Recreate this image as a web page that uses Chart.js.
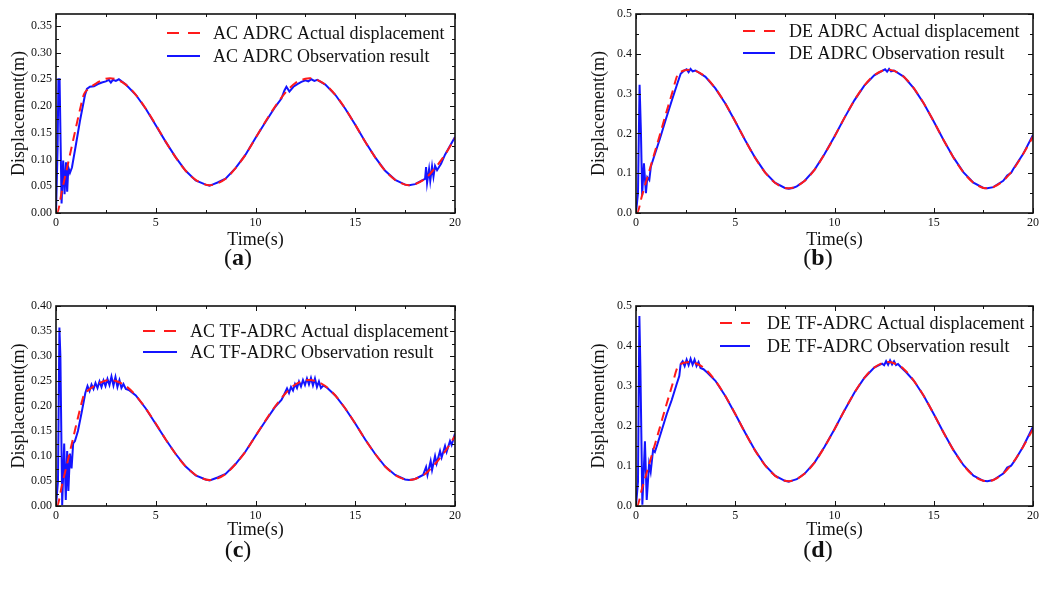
<!DOCTYPE html>
<html>
<head>
<meta charset="utf-8">
<script src="https://cdn.jsdelivr.net/npm/chart.js@4.4.1/dist/chart.umd.min.js"></script>
<style>
  body { margin: 0; background: #fff; width: 1042px; height: 589px; position: relative; overflow: hidden; font-family: "Liberation Serif", serif; }
  canvas { position: absolute; }
  .cap { position: absolute; font-size: 24px; color: #111; transform: translate(-50%, -50%); white-space: nowrap; }
</style>
</head>
<body>
<canvas id="chartA"></canvas>
<canvas id="chartB"></canvas>
<canvas id="chartC"></canvas>
<canvas id="chartD"></canvas>
<div class="cap" style="left:238px;top:257px">(<b>a</b>)</div>
<div class="cap" style="left:818px;top:257px">(<b>b</b>)</div>
<div class="cap" style="left:238px;top:549px">(<b>c</b>)</div>
<div class="cap" style="left:818px;top:549px">(<b>d</b>)</div>
<script>
// ---- data (time in s, displacement in m) ----
const xTicks = [0, 5, 10, 15, 20];

const timeActAC = [0, 0.05, 0.3, 0.6, 0.9, 1.2, 1.4, 1.6, 2.0, 2.5, 2.7, 3.0, 3.5, 4.0, 4.5, 5.0, 5.5, 6.0, 6.5, 7.0, 7.5, 7.7, 8.0, 8.5, 9.0, 9.5, 10.0, 10.5, 11.0, 11.5, 12.0, 12.5, 12.7, 13.0, 13.5, 14.0, 14.5, 15.0, 15.5, 16.0, 16.5, 17.0, 17.5, 17.7, 18.0, 18.5, 19.0, 19.5, 20.0];
const actAC = [0, 0, 0.042, 0.092, 0.143, 0.193, 0.222, 0.231, 0.242, 0.251, 0.252, 0.250, 0.240, 0.221, 0.195, 0.165, 0.133, 0.104, 0.079, 0.062, 0.053, 0.052, 0.054, 0.064, 0.084, 0.109, 0.140, 0.171, 0.200, 0.225, 0.243, 0.251, 0.252, 0.250, 0.240, 0.221, 0.195, 0.165, 0.133, 0.104, 0.079, 0.062, 0.053, 0.052, 0.054, 0.064, 0.084, 0.109, 0.140];

const timeActDE = [0, 0.05, 0.3, 0.6, 0.9, 1.2, 1.5, 1.8, 2.1, 2.3, 2.5, 2.7, 3.0, 3.5, 4.0, 4.5, 5.0, 5.5, 6.0, 6.5, 7.0, 7.5, 7.7, 8.0, 8.5, 9.0, 9.5, 10.0, 10.5, 11.0, 11.5, 12.0, 12.5, 12.7, 13.0, 13.5, 14.0, 14.5, 15.0, 15.5, 16.0, 16.5, 17.0, 17.5, 17.7, 18.0, 18.5, 19.0, 19.5, 20.0];
const actDE = [0, 0, 0.043, 0.094, 0.145, 0.196, 0.248, 0.298, 0.348, 0.356, 0.359, 0.360, 0.357, 0.342, 0.313, 0.275, 0.230, 0.183, 0.139, 0.102, 0.076, 0.063, 0.062, 0.065, 0.081, 0.109, 0.148, 0.192, 0.239, 0.283, 0.320, 0.346, 0.359, 0.360, 0.357, 0.342, 0.313, 0.275, 0.230, 0.183, 0.139, 0.102, 0.076, 0.063, 0.062, 0.065, 0.081, 0.109, 0.148, 0.192];

// (a) AC ADRC observation
const timeObsA = [0, 0.08, 0.12, 0.18, 0.28, 0.36, 0.43, 0.5, 0.56, 0.62,
  0.7, 0.8, 1.0, 1.2, 1.45, 1.55, 1.7, 1.9, 2.1, 2.3,
  2.5, 2.65, 2.75, 2.85, 3.0, 3.15, 3.5, 4.0, 4.5, 5.0,
  5.5, 6.0, 6.5, 7.0, 7.5, 7.7, 7.9, 8.1, 8.5, 9.0,
  9.5, 10.0, 10.5, 11.0, 11.3, 11.45, 11.55, 11.7, 11.9, 12.1,
  12.3, 12.5, 12.65, 12.8, 12.95, 13.1, 13.5, 14.0, 14.5, 15.0,
  15.5, 16.0, 16.5, 17.0, 17.5, 17.7, 18.0, 18.3, 18.5, 18.55,
  18.6, 18.7, 18.76, 18.85, 18.92, 19.0, 19.1, 19.3, 19.5, 20.0];
const obsA = [0, 0.12, 0.25, 0.25, 0.018, 0.098, 0.035, 0.095, 0.04, 0.085,
  0.075, 0.085, 0.128, 0.172, 0.22, 0.232, 0.236, 0.237, 0.241, 0.244,
  0.246, 0.249, 0.244, 0.249, 0.247, 0.25, 0.240, 0.221, 0.195, 0.164,
  0.133, 0.104, 0.079, 0.061, 0.053, 0.051, 0.054, 0.057, 0.064, 0.084,
  0.109, 0.140, 0.170, 0.199, 0.214, 0.229, 0.236, 0.227, 0.236, 0.241,
  0.245, 0.248, 0.246, 0.25, 0.247, 0.249, 0.240, 0.221, 0.195, 0.165,
  0.133, 0.104, 0.079, 0.062, 0.053, 0.052, 0.054, 0.06, 0.064, 0.086,
  0.056, 0.082, 0.06, 0.087, 0.068, 0.088, 0.08, 0.092, 0.109, 0.142];

// (b) DE ADRC observation
const timeObsB = [0, 0.1, 0.18, 0.25, 0.31, 0.4, 0.5, 0.57, 0.67, 0.75,
  0.9, 1.2, 1.5, 1.8, 2.1, 2.25, 2.4, 2.55, 2.65, 2.75,
  2.85, 3.0, 3.5, 4.0, 4.5, 5.0, 5.5, 6.0, 6.5, 7.0,
  7.5, 7.7, 7.9, 8.1, 8.5, 9.0, 9.5, 10.0, 10.5, 11.0,
  11.5, 12.0, 12.4, 12.55, 12.65, 12.75, 12.85, 13.0, 13.5, 14.0,
  14.5, 15.0, 15.5, 16.0, 16.5, 17.0, 17.5, 17.7, 18.0, 18.5,
  18.7, 18.9, 19.0, 19.5, 20.0];
const obsB = [0, 0.05, 0.322, 0.2, 0.045, 0.125, 0.05, 0.09, 0.083, 0.117,
  0.14, 0.186, 0.235, 0.282, 0.328, 0.350, 0.357, 0.361, 0.354, 0.362,
  0.356, 0.358, 0.342, 0.313, 0.275, 0.230, 0.183, 0.139, 0.102, 0.076,
  0.063, 0.061, 0.063, 0.067, 0.081, 0.109, 0.148, 0.192, 0.239, 0.283,
  0.320, 0.346, 0.357, 0.361, 0.355, 0.362, 0.356, 0.358, 0.342, 0.313,
  0.275, 0.230, 0.183, 0.139, 0.102, 0.076, 0.063, 0.062, 0.065, 0.081,
  0.094, 0.101, 0.11, 0.148, 0.196];

// (c) AC TF-ADRC observation
const timeObsC = [0, 0.1, 0.17, 0.22, 0.31, 0.41, 0.49, 0.56, 0.62, 0.7,
  0.78, 0.86, 0.95, 1.1, 1.3, 1.47, 1.58, 1.68, 1.78, 1.88,
  1.98, 2.08, 2.18, 2.28, 2.38, 2.48, 2.58, 2.68, 2.78, 2.88,
  2.98, 3.08, 3.18, 3.28, 3.38, 3.5, 3.65, 4.0, 4.5, 5.0,
  5.5, 6.0, 6.5, 7.0, 7.5, 7.7, 7.9, 8.1, 8.5, 9.0,
  9.5, 10.0, 10.5, 11.0, 11.3, 11.45, 11.58, 11.68, 11.78, 11.88,
  11.98, 12.08, 12.18, 12.28, 12.38, 12.48, 12.58, 12.68, 12.78, 12.88,
  12.98, 13.08, 13.18, 13.28, 13.4, 13.6, 14.0, 14.5, 15.0, 15.5,
  16.0, 16.5, 17.0, 17.5, 17.7, 18.0, 18.25, 18.4, 18.55, 18.62,
  18.78, 18.85, 19.0, 19.08, 19.25, 19.33, 19.5, 19.58, 19.75, 19.83,
  20.0];
const obsC = [0, 0.05, 0.357, 0.3, 0.002, 0.125, 0.012, 0.11, 0.03, 0.105,
  0.075, 0.125, 0.13, 0.15, 0.19, 0.226, 0.240, 0.230, 0.243, 0.234,
  0.246, 0.236, 0.249, 0.238, 0.251, 0.240, 0.254, 0.242, 0.259, 0.241,
  0.258, 0.238, 0.252, 0.236, 0.244, 0.234, 0.232, 0.221, 0.195, 0.164,
  0.133, 0.104, 0.079, 0.061, 0.053, 0.051, 0.054, 0.057, 0.064, 0.084,
  0.109, 0.140, 0.170, 0.199, 0.212, 0.224, 0.235, 0.226, 0.238, 0.231,
  0.244, 0.236, 0.249, 0.239, 0.252, 0.242, 0.255, 0.243, 0.256, 0.241,
  0.255, 0.238, 0.249, 0.236, 0.241, 0.236, 0.221, 0.195, 0.165, 0.133,
  0.104, 0.079, 0.062, 0.053, 0.052, 0.054, 0.059, 0.062, 0.078, 0.062,
  0.09, 0.072, 0.1, 0.085, 0.11, 0.097, 0.12, 0.108, 0.13, 0.122,
  0.145];

// (d) DE TF-ADRC observation
const timeObsD = [0, 0.1, 0.17, 0.22, 0.32, 0.45, 0.54, 0.66, 0.74, 0.86,
  0.95, 1.05, 1.3, 1.55, 1.8, 2.05, 2.18, 2.25, 2.35, 2.45,
  2.55, 2.65, 2.75, 2.85, 2.95, 3.05, 3.15, 3.25, 3.4, 3.6,
  4.0, 4.5, 5.0, 5.5, 6.0, 6.5, 7.0, 7.5, 7.7, 7.9,
  8.1, 8.5, 9.0, 9.5, 10.0, 10.5, 11.0, 11.5, 12.0, 12.4,
  12.5, 12.6, 12.7, 12.8, 12.9, 13.0, 13.1, 13.2, 13.35, 13.6,
  14.0, 14.5, 15.0, 15.5, 16.0, 16.5, 17.0, 17.5, 17.7, 18.0,
  18.5, 18.7, 18.9, 19.1, 19.5, 19.8, 20.0];
const obsD = [0, 0.06, 0.475, 0.35, 0.003, 0.162, 0.015, 0.105, 0.085, 0.14,
  0.135, 0.15, 0.19, 0.23, 0.265, 0.305, 0.325, 0.355, 0.362, 0.35,
  0.366, 0.352, 0.368, 0.353, 0.366, 0.35, 0.36, 0.345, 0.342, 0.333,
  0.313, 0.275, 0.230, 0.183, 0.139, 0.102, 0.076, 0.063, 0.061, 0.064,
  0.067, 0.081, 0.109, 0.148, 0.192, 0.239, 0.283, 0.320, 0.346, 0.356,
  0.352, 0.362, 0.353, 0.364, 0.354, 0.362, 0.352, 0.355, 0.347, 0.335,
  0.313, 0.275, 0.230, 0.183, 0.139, 0.102, 0.076, 0.063, 0.062, 0.065,
  0.081, 0.096, 0.101, 0.115, 0.148, 0.178, 0.198];

const FONT = '"Liberation Serif", "Times New Roman", serif';
const INK = '#111';

function pts(ts, vs) {
  return ts.map((t, i) => ({ x: t, y: vs[i] }));
}

// box frame, inward ticks on all sides, legend inside the plot
const framePlugin = {
  id: 'frame',
  afterDatasetsDraw(chart, args, opts) {
    const { ctx, chartArea: a } = chart;
    const x = chart.scales.x, y = chart.scales.y;
    ctx.save();
    ctx.strokeStyle = INK;
    ctx.lineWidth = 1;
    ctx.setLineDash([]);
    ctx.beginPath();
    for (let i = 0; i <= 8; i++) {
      const px = Math.round(x.getPixelForValue(i * 2.5)) + 0.5;
      const len = i % 2 === 0 ? 5 : 3;
      ctx.moveTo(px, a.bottom); ctx.lineTo(px, a.bottom - len);
      ctx.moveTo(px, a.top); ctx.lineTo(px, a.top + len);
    }
    const half = opts.step / 2;
    const n = Math.floor(y.max / half + 1e-6);
    for (let i = 0; i <= n; i++) {
      const py = Math.round(y.getPixelForValue(i * half)) + 0.5;
      const len = i % 2 === 0 ? 5 : 3;
      ctx.moveTo(a.left, py); ctx.lineTo(a.left + len, py);
      ctx.moveTo(a.right, py); ctx.lineTo(a.right - len, py);
    }
    ctx.stroke();
    ctx.lineWidth = 1.6;
    ctx.strokeRect(a.left, a.top, a.right - a.left, a.bottom - a.top);

    const lg = opts.legend;
    ctx.font = '18px ' + FONT;
    ctx.textBaseline = 'middle';
    chart.data.datasets.forEach((ds, i) => {
      const ly = lg.rows[i];
      ctx.strokeStyle = ds.borderColor;
      ctx.lineWidth = 2;
      ctx.setLineDash(ds.borderDash && ds.borderDash.length ? [12, 9] : []);
      ctx.beginPath();
      ctx.moveTo(lg.x1, ly); ctx.lineTo(lg.x2, ly);
      ctx.stroke();
      ctx.setLineDash([]);
      ctx.fillStyle = INK;
      ctx.fillText(ds.label, lg.tx, ly + 1);
    });
    ctx.restore();
  }
};

function drawPanel(id, box, yMax, yStep, digits, legend, sets) {
  const cv = document.getElementById(id);
  const left = box.L - 56, top = box.T - 14;
  cv.width = box.R - box.L + 56 + 25;
  cv.height = box.B - box.T + 14 + box.xh;
  cv.style.left = left + 'px';
  cv.style.top = top + 'px';

  new Chart(cv, {
    type: 'line',
    data: {
      datasets: [
        {
          label: sets.actLabel,
          data: pts(sets.actT, sets.act),
          borderColor: '#ff1a1a',
          borderWidth: 2,
          borderDash: [9, 6],
          pointRadius: 0,
          cubicInterpolationMode: 'monotone'
        },
        {
          label: sets.obsLabel,
          data: pts(sets.obsT, sets.obs),
          borderColor: '#1414ff',
          borderWidth: 2,
          pointRadius: 0,
          tension: 0
        }
      ]
    },
    options: {
      responsive: false,
      animation: false,
      layout: { padding: { top: 14, right: 25, left: 0, bottom: 0 } },
      plugins: {
        legend: { display: false },
        tooltip: { enabled: false },
        frame: { step: yStep, legend: {
          x1: legend.x1 - left, x2: legend.x2 - left, tx: legend.tx - left,
          rows: legend.rows.map(r => r - top)
        } }
      },
      scales: {
        x: {
          type: 'linear',
          min: 0, max: 20,
          afterFit: s => { s.height = box.xh; },
          afterBuildTicks: s => { s.ticks = xTicks.map(v => ({ value: v })); },
          grid: { display: false, drawTicks: false },
          border: { display: false },
          ticks: { padding: 3, color: INK, font: { family: FONT, size: 12 }, maxRotation: 0 },
          title: { display: true, text: 'Time(s)', color: INK, font: { family: FONT, size: 18 }, padding: { top: 0, bottom: 0 } }
        },
        y: {
          type: 'linear',
          min: 0, max: yMax,
          afterFit: s => { s.width = 56; },
          grid: { display: false, drawTicks: false },
          border: { display: false },
          ticks: {
            stepSize: yStep, includeBounds: false, padding: 4, color: INK,
            font: { family: FONT, size: 12 },
            callback: v => v.toFixed(digits)
          },
          title: { display: true, text: 'Displacement(m)', color: INK, font: { family: FONT, size: 18 }, padding: { top: 8, bottom: 0 } }
        }
      }
    },
    plugins: [framePlugin]
  });
}

drawPanel('chartA', { L: 56, R: 455, T: 14, B: 213, xh: 38 }, 0.372, 0.05, 2,
  { x1: 167, x2: 200, tx: 213, rows: [33, 56] },
  { actLabel: 'AC ADRC Actual displacement', actT: timeActAC, act: actAC,
    obsLabel: 'AC ADRC Observation result', obsT: timeObsA, obs: obsA });

drawPanel('chartB', { L: 636, R: 1033, T: 14, B: 213, xh: 38 }, 0.5, 0.1, 1,
  { x1: 743, x2: 775, tx: 789, rows: [31, 53] },
  { actLabel: 'DE ADRC Actual displacement', actT: timeActDE, act: actDE,
    obsLabel: 'DE ADRC Observation result', obsT: timeObsB, obs: obsB });

drawPanel('chartC', { L: 56, R: 455, T: 306, B: 506, xh: 35 }, 0.40, 0.05, 2,
  { x1: 143, x2: 177, tx: 190, rows: [331, 352] },
  { actLabel: 'AC TF-ADRC Actual displacement', actT: timeActAC, act: actAC,
    obsLabel: 'AC TF-ADRC Observation result', obsT: timeObsC, obs: obsC });

drawPanel('chartD', { L: 636, R: 1033, T: 306, B: 506, xh: 35 }, 0.5, 0.1, 1,
  { x1: 720, x2: 750, tx: 767, rows: [323, 346] },
  { actLabel: 'DE TF-ADRC Actual displacement', actT: timeActDE, act: actDE,
    obsLabel: 'DE TF-ADRC Observation result', obsT: timeObsD, obs: obsD });
</script>
</body>
</html>
